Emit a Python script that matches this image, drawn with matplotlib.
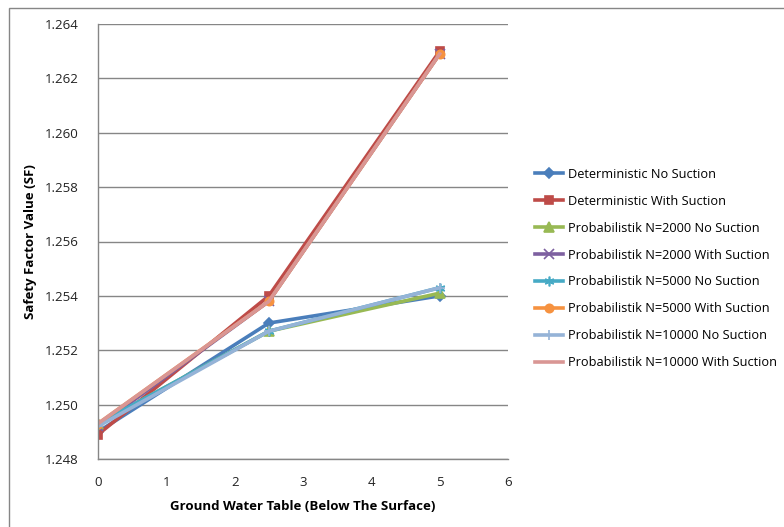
#!/usr/bin/env python3

import matplotlib
matplotlib.use('Agg')
import matplotlib.pyplot as plt
from matplotlib.patches import Rectangle

plt.rcParams['font.family'] = ['Open Sans', 'DejaVu Sans']

gwt = [0, 2.5, 5]

det_no = [1.2490, 1.2530, 1.2540]
det_with = [1.2489, 1.2540, 1.2630]
p2000_no = [1.2493, 1.2527, 1.2541]
p2000_with = [1.2492, 1.2538, 1.2629]
p5000_no = [1.2493, 1.2527, 1.2543]
p5000_with = [1.2493, 1.2538, 1.2629]
p10000_no = [1.2492, 1.2527, 1.2543]
p10000_with = [1.2493, 1.2538, 1.2629]

series = [
    ('Deterministic No Suction', det_no, '#4A7EBB', 'D'),
    ('Deterministic With Suction', det_with, '#BE4B48', 's'),
    ('Probabilistik N=2000 No Suction', p2000_no, '#98B954', '^'),
    ('Probabilistik N=2000 With Suction', p2000_with, '#7D60A0', 'x'),
    ('Probabilistik N=5000 No Suction', p5000_no, '#46AAC5', (6, 2, 0)),
    ('Probabilistik N=5000 With Suction', p5000_with, '#F69240', 'o'),
    ('Probabilistik N=10000 No Suction', p10000_no, '#95B3D7', '+'),
    ('Probabilistik N=10000 With Suction', p10000_with, '#D99694', None),
]

fig = plt.figure(figsize=(7.84, 5.27), dpi=100)
ax = fig.add_axes([98 / 784, 1 - 459 / 527, 410 / 784, 435 / 527])

for name, vals, color, marker in series:
    ms = 6 if marker in ('s', 'o') else 7
    if marker == 'D':
        ms = 5
    ax.plot(gwt, vals, color=color, lw=2.6, marker=marker, ms=ms,
            mew=1.2, label=name)

ax.set_xlim(0, 6)
ax.set_ylim(1.248, 1.264)
ax.set_xticks(range(0, 7))
ax.set_yticks([1.248 + 0.002 * i for i in range(9)])
ax.set_yticklabels(['%.3f' % (1.248 + 0.002 * i) for i in range(9)])
ax.tick_params(length=0, labelsize=9.5, colors='#222222')
ax.tick_params(axis='y', pad=14)
ax.tick_params(axis='x', pad=12)
ax.grid(axis='y', color='#868686', lw=1)
ax.set_axisbelow(True)
for s in ('top', 'right'):
    ax.spines[s].set_visible(False)
for s in ('left', 'bottom'):
    ax.spines[s].set_color('#868686')
    ax.spines[s].set_linewidth(1)

ax.set_xlabel('Ground Water Table (Below The Surface)', fontsize=9.5,
              fontweight='bold', labelpad=8)
ax.set_ylabel('Safety Factor Value (SF)', fontsize=9.5, fontweight='bold')
ax.yaxis.set_label_coords(-61 / 410, 0.5)

ax.legend(loc='center left', bbox_to_anchor=(535 / 784, 1 - 268.5 / 527),
          bbox_transform=fig.transFigure, frameon=False, fontsize=9.2,
          handlelength=2.2, handletextpad=0.39, labelspacing=1.09,
          borderaxespad=0, borderpad=0)

fig.patches.append(Rectangle((9 / 784, -0.1), 1.1, 1 - 8 / 527 + 0.1,
                             transform=fig.transFigure, fill=False,
                             edgecolor='#868686', lw=1))

plt.savefig('out.png', dpi=100)
